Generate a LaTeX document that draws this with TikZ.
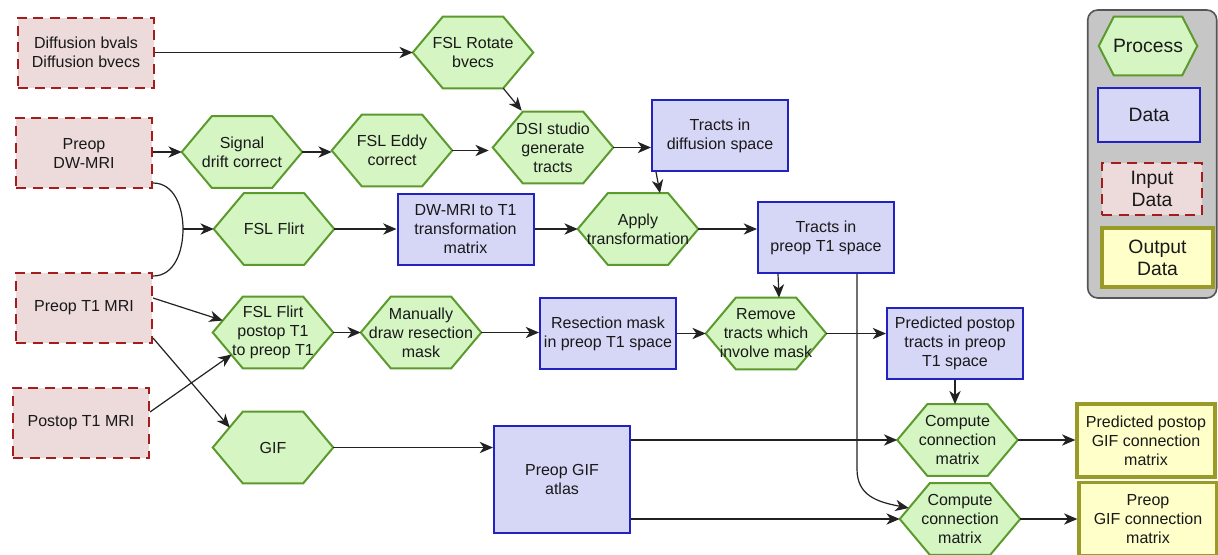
\documentclass[tikz,border=0pt]{standalone}
\usepackage{fontspec}
\setmainfont{Liberation Sans}
\usetikzlibrary{calc,arrows.meta}
\pgfdeclarelayer{back}
\pgfdeclarelayer{background}
\pgfsetlayers{back,background,main}
\definecolor{hexfill}{HTML}{D5F5C3}
\definecolor{hexline}{HTML}{5C9A2E}
\definecolor{datfill}{HTML}{D6D6F7}
\definecolor{datline}{HTML}{2222C0}
\definecolor{inpfill}{HTML}{EDDADA}
\definecolor{inpline}{HTML}{A51C1C}
\definecolor{outfill}{HTML}{FFFFCA}
\definecolor{outline}{HTML}{9A9A28}
\definecolor{legfill}{HTML}{C6C6C6}
\definecolor{legline}{HTML}{555555}
\definecolor{arrline}{HTML}{222222}
\begin{document}
\begin{tikzpicture}[x=0.75pt,y=-0.75pt,
  every node/.style={font=\fontsize{12}{14.25}\selectfont,align=center,inner sep=0pt,text=black!90},
  hexbox/.style={rectangle,minimum width=90pt,minimum height=53.25pt},
  hexdraw/.style={fill=hexfill,draw=hexline,line width=1.5pt,line join=miter},
  databox/.style={rectangle,fill=datfill,draw=datline,line width=1.5pt,minimum width=102pt,minimum height=53.25pt},
  inpbox/.style={rectangle,fill=inpfill,draw=inpline,line width=1.5pt,dash pattern=on 7.5pt off 5pt,minimum width=102pt,minimum height=52.5pt},
  outbox/.style={rectangle,fill=outfill,draw=outline,line width=2.5pt,minimum width=103.5pt,minimum height=54.75pt},
  legtext/.style={font=\fontsize{14.5}{16.5}\selectfont},
  arr/.style={draw=arrline,line width=0.9pt,-{Stealth[length=10pt,width=8.5pt,inset=3pt]}},
  conn/.style={draw=arrline,line width=0.9pt}]
\useasboundingbox (0,0) rectangle (1218,554);

% input data
\node[inpbox] (bvals) at (86,52.5) {Diffusion bvals\\Diffusion bvecs};
\node[inpbox] (dw) at (84,153) {Preop\\DW-MRI};
\node[inpbox] (pret1) at (84,308) {Preop T1 MRI};
\node[inpbox] (post) at (81,423) {Postop T1 MRI};

% processes
\node[hexbox] (rot) at (473,52.5) {FSL Rotate\\bvecs};
\node[hexbox] (sig) at (242,152) {Signal\\drift correct};
\node[hexbox] (eddy) at (392,150.5) {FSL Eddy\\correct};
\node[hexbox] (dsi) at (553,147.5) {DSI studio\\generate\\tracts};
\node[hexbox] (flirt) at (274,229) {FSL Flirt};
\node[hexbox] (apply) at (638,229) {Apply\\transformation};
\node[hexbox] (flirt2) at (273,332.5) {FSL Flirt\\postop T1\\to preop T1};
\node[hexbox] (manual) at (421,332.5) {Manually\\draw resection\\mask};
\node[hexbox] (remove) at (766,333.5) {Remove\\tracts which\\involve mask};
\node[hexbox] (gif) at (273,447.5) {GIF};
\node[hexbox] (cc1) at (957.5,440) {Compute\\connection\\matrix};
\node[hexbox] (cc2) at (960,519) {Compute\\connection\\matrix};

% data
\node[databox] (td) at (720,135.5) {Tracts in\\diffusion space};
\node[databox] (dwt1) at (465.5,229) {DW-MRI to T1\\transformation\\matrix};
\node[databox] (tt1) at (826,237.5) {Tracts in\\preop T1 space};
\node[databox] (res) at (608,333.5) {Resection mask\\in preop T1 space};
\node[databox] (pred) at (955,343.5) {Predicted postop\\tracts in preop\\T1 space};
\node[databox,minimum height=80.25pt] (atlas) at (562,479.5) {Preop GIF\\atlas};

% outputs
\node[outbox] (out1) at (1146,440.5) {Predicted postop\\GIF connection\\matrix};
\node[outbox] (out2) at (1148,519) {Preop\\GIF connection\\matrix};

% legend
\node[hexbox,legtext,minimum width=73.5pt,minimum height=43.5pt] (lproc) at (1148,46) {Process};
\node[databox,legtext,minimum width=76.5pt,minimum height=40.5pt] (ldata) at (1149,115) {Data};
\node[inpbox,legtext,minimum width=75pt,minimum height=39pt] (linput) at (1152,189) {Input\\Data};
\node[outbox,legtext,minimum width=83.25pt,minimum height=44.25pt] (lout) at (1157.5,257.5) {Output\\Data};

\begin{pgfonlayer}{back}
\node[draw=legline,fill=legfill,line width=1.2pt,rounded corners=7.5pt,minimum width=96.75pt,minimum height=216pt] (legend) at (1152.25,154) {};
\end{pgfonlayer}

\begin{pgfonlayer}{background}
\foreach \n in {rot,sig,eddy,dsi,flirt,apply,flirt2,manual,remove,gif,cc1,cc2}{
  \draw[hexdraw] (\n.west) -- ($(\n.north west)+(30,0)$) -- ($(\n.north east)+(-30,0)$) -- (\n.east) -- ($(\n.south east)+(-30,0)$) -- ($(\n.south west)+(30,0)$) -- cycle;
}
\draw[hexdraw] (lproc.west) -- ($(lproc.north west)+(15,0)$) -- ($(lproc.north east)+(-15,0)$) -- (lproc.east) -- ($(lproc.south east)+(-15,0)$) -- ($(lproc.south west)+(15,0)$) -- cycle;
\end{pgfonlayer}

% connectors
\coordinate (junc) at (183,229);
\draw[arr] (bvals.east) -- (rot.west);
\draw[arr] ($(rot.south east)+(-30,0)$) -- ($(dsi.north west)+(29,-1)$);
\draw[arr] (sig.west -| dw.east) -- (sig.west);
\draw[arr] (sig.east) -- (sig.east -| eddy.west);
\draw[arr] (eddy.east) -- ($(eddy.east -| dsi.west)+(-4,0)$);
\draw[arr] (dsi.east) -- (dsi.east -| td.west);
\draw[arr] ($(td.south west)+(5,0)$) -- ($(apply.north)+(22,0)$);
\draw[conn] ($(dw.south east)+(0,-6)$) to[out=0,in=90] (junc) to[out=-90,in=0] ($(pret1.north east)+(0,4)$);
\draw[arr] (junc) -- (flirt.west);
\draw[arr] (flirt.east) -- (dwt1.west);
\draw[arr] (dwt1.east) -- (apply.west);
\draw[arr] (apply.east) -- (apply.east -| tt1.west);
\draw[arr] ($(tt1.south west)+(21,0)$) -- ($(remove.north)+(13,0)$);
\draw[arr] ($(pret1.east)+(0,-10)$) -- ($(flirt2.west)+(10,-12)$);
\draw[arr] ($(pret1.east)+(0,30)$) -- ($(gif.west)+(17,-20)$);
\draw[arr] ($(post.east)+(0,-11)$) -- ($(flirt2.west)+(19,22)$);
\draw[arr] (flirt2.east) -- (manual.west);
\draw[arr] (manual.east) -- (manual.east -| res.west);
\draw[arr] (res.east) -- (res.east -| remove.west);
\draw[arr] (remove.east) -- (remove.east -| pred.west);
\draw[arr] (pred.south) -- (pred.south |- cc1.north);
\draw[arr] (gif.east) -- (gif.east -| atlas.west);
\draw[arr] (cc1.west -| atlas.east) -- (cc1.west);
\draw[arr] (cc2.west -| atlas.east) -- (cc2.west);
\draw[arr] ($(tt1.south west)+(100,0)$) -- ++(0,195) .. controls ++(0,27) and ($(cc2.west)+(-22,-17)$) .. ($(cc2.west)+(9,-11)$);
\draw[arr] (cc1.east) -- (cc1.east -| out1.west);
\draw[arr] (cc2.east) -- (cc2.east -| out2.west);
\end{tikzpicture}
\end{document}
